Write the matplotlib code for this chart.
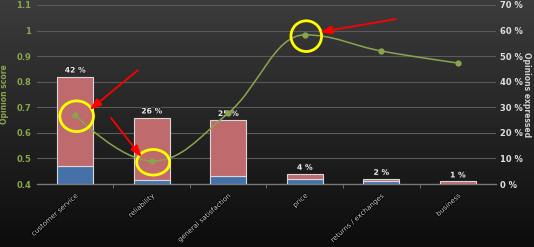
import numpy as np
import matplotlib
matplotlib.use('Agg')
import matplotlib.pyplot as plt
from matplotlib.path import Path
from matplotlib.patches import PathPatch, Ellipse
import matplotlib.patheffects as pe

# data
categories = ['customer service', 'reliability', 'general satisfaction',
              'price', 'returns / exchanges', 'business']
pct_blue = [7, 1.5, 3, 2, 1, 0]
pct_red = [35, 24.5, 22, 2, 1, 1]
pct_labels = ['42 %', '26 %', '25 %', '4 %', '2 %', '1 %']
score = [0.67, 0.49, 0.677, 0.983, 0.92, 0.873]

# annotation highlights (data coords) and arrows (tail -> head)
circle_idx = [0, 1, 3]
circle_w = [0.44, 0.43, 0.40]
circle_h = [0.12, 0.10, 0.12]
arrows = [((0.82, 0.845), (0.19, 0.69)),
          ((0.47, 0.658), (0.87, 0.505)),
          ((4.19, 1.045), (3.2, 0.994))]

green = '#89a54e'
red_c = '#bf6a6c'
blue_c = '#4670a8'

fig = plt.figure(figsize=(5.34, 2.47), dpi=100)

# background gradient
bg = fig.add_axes([0, 0, 1, 1], zorder=-10)
grad = np.linspace(0, 1, 256).reshape(-1, 1)
bg.imshow(grad, aspect='auto', cmap=matplotlib.colors.LinearSegmentedColormap.from_list(
    'bg', ['#3c3c3c', '#0c0c0c']), extent=[0, 1, 0, 1])
bg.axis('off')

ax2 = fig.add_axes([0.069, 0.255, 0.86, 0.725])
ax = ax2.twinx()
ax.yaxis.tick_left()
ax.yaxis.set_label_position('left')
ax2.yaxis.tick_right()
ax2.yaxis.set_label_position('right')
ax.set_zorder(ax2.get_zorder() + 1)
ax.patch.set_visible(False)
ax2.patch.set_visible(False)

x = np.arange(len(categories))

# bars on percent axis
ax2.bar(x, pct_blue, width=0.47, color=blue_c, edgecolor='#d8d8d8', linewidth=0.8, zorder=3)
ax2.bar(x, pct_red, width=0.47, bottom=pct_blue, color=red_c, edgecolor='#d8d8d8',
        linewidth=0.8, zorder=3)
for i, lab in enumerate(pct_labels):
    ax2.text(x[i], pct_blue[i] + pct_red[i] + 0.8, lab, ha='center', va='bottom',
             fontsize=5.5, color='#e8e8e8', fontweight='bold', zorder=4,
             path_effects=[pe.withStroke(linewidth=1.2, foreground='#222222')])
ax2.set_ylim(0, 70)
ax2.set_yticks(range(0, 71, 10))
ax2.set_yticklabels(['%d %%' % v for v in range(0, 71, 10)])
ax2.set_xlim(-0.5, len(categories) - 0.5)
ax2.grid(axis='y', color='#5a5a5a', linewidth=0.8, zorder=0)
ax2.set_axisbelow(True)
ax2.tick_params(axis='y', length=0, labelsize=6, labelcolor='#e0e0e0', pad=3)
for t in ax2.get_yticklabels():
    t.set_fontweight('bold')
ax2.set_ylabel('Opinions expressed', rotation=270, color='#d0d0d0', fontsize=5.5,
               fontweight='bold', labelpad=6)

# spline line on score axis (highcharts-style smoothing)
def spline_path(xs, ys, smoothing=1.5):
    denom = smoothing + 1
    n = len(xs)
    conts = []
    for i in range(n):
        px, py = xs[i], ys[i]
        if i == 0 or i == n - 1:
            conts.append(((px, py), (px, py)))
            continue
        lx, ly = xs[i - 1], ys[i - 1]
        nx, ny = xs[i + 1], ys[i + 1]
        lcx = (smoothing * px + lx) / denom
        lcy = (smoothing * py + ly) / denom
        rcx = (smoothing * px + nx) / denom
        rcy = (smoothing * py + ny) / denom
        corr = (rcy - lcy) * (rcx - px) / (rcx - lcx) + py - rcy
        lcy += corr
        rcy += corr
        if lcy > ly and lcy > py:
            lcy = max(ly, py)
            rcy = 2 * py - lcy
        elif lcy < ly and lcy < py:
            lcy = min(ly, py)
            rcy = 2 * py - lcy
        if rcy > ny and rcy > py:
            rcy = max(ny, py)
            lcy = 2 * py - rcy
        elif rcy < ny and rcy < py:
            rcy = min(ny, py)
            lcy = 2 * py - rcy
        conts.append(((lcx, lcy), (rcx, rcy)))
    verts = [(xs[0], ys[0])]
    codes = [Path.MOVETO]
    for i in range(1, n):
        verts += [conts[i - 1][1], conts[i][0], (xs[i], ys[i])]
        codes += [Path.CURVE4] * 3
    return Path(verts, codes)

ax.add_patch(PathPatch(spline_path(list(x), score), facecolor='none', edgecolor=green,
                       linewidth=1.1, zorder=5))
ax.plot(x, score, 'o', color=green, markersize=3.5, zorder=6)
ax.set_ylim(0.4, 1.1)
ax.set_yticks(np.arange(0.4, 1.11, 0.1))
ax.set_yticklabels(['0.4', '0.5', '0.6', '0.7', '0.8', '0.9', '1', '1.1'])
ax.tick_params(axis='y', length=0, labelsize=6, labelcolor=green, pad=4)
for t in ax.get_yticklabels():
    t.set_fontweight('bold')
ax.set_ylabel('Opinion score', color=green, fontsize=5.5, fontweight='bold', labelpad=5)

# highlights
for k, i in enumerate(circle_idx):
    ax.add_patch(Ellipse((x[i] + 0.02, score[i] - 0.005), circle_w[k], circle_h[k],
                         facecolor='none', edgecolor='#ffff00', linewidth=2.0, zorder=7))
for tail, head in arrows:
    ax.annotate('', xy=head, xytext=tail, zorder=8,
                arrowprops=dict(arrowstyle='-|>,head_length=0.7,head_width=0.25',
                                color='#ff0000', lw=1.3, shrinkA=0, shrinkB=0))

# x axis
ax.set_xlim(-0.5, len(categories) - 0.5)
ax2.set_xticks(x)
ax2.set_xticklabels(categories, rotation=42, ha='right', va='top', rotation_mode='anchor',
                    fontsize=5, color='#d0d0d0')
for t in ax2.get_xticklabels():
    t.set_path_effects([pe.withStroke(linewidth=1.2, foreground='#000000')])
ax2.tick_params(axis='x', which='major', length=0, pad=6)
ax2.set_xticks(np.arange(0.5, len(categories) - 0.5, 1), minor=True)
ax2.tick_params(axis='x', which='minor', length=3, color='#777777', direction='out')

for a in (ax, ax2):
    for s in a.spines.values():
        s.set_visible(False)
ax2.spines['bottom'].set_visible(True)
ax2.spines['bottom'].set_color('#777777')
ax2.spines['bottom'].set_linewidth(1.0)

fig.savefig('out.png', dpi=100)
